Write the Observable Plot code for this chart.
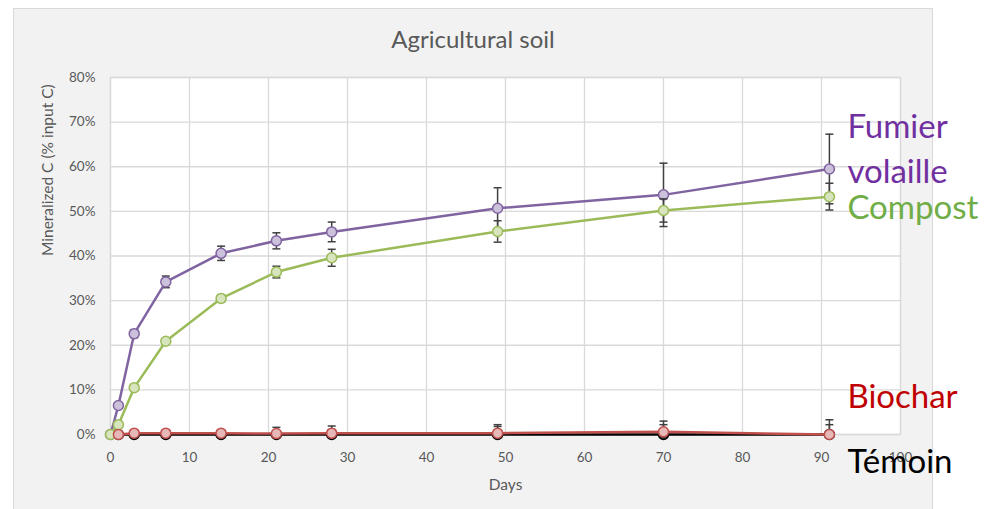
<!DOCTYPE html>
<html>
<head>
<meta charset="utf-8">
<script src="https://cdn.jsdelivr.net/npm/d3@7"></script>
<script src="https://cdn.jsdelivr.net/npm/@observablehq/plot@0.6"></script>
<style>
  html, body { margin: 0; padding: 0; background: #ffffff; }
  #wrap { position: relative; width: 988px; height: 509px; overflow: hidden; font-family: Lato, sans-serif; }
  #panel { position: absolute; left: 13px; top: 8px; width: 920px; height: 520px; background: #f2f2f2; border: 1px solid #d9d9d9; box-sizing: border-box; }
  #title { position: absolute; left: 13px; width: 920px; top: 25px; text-align: center; font-size: 24px; line-height: 28px; color: #595959; }
  #chart { position: absolute; left: 0; top: 0; }
</style>
</head>
<body>
<div id="wrap">
  <div id="panel"></div>
  <div id="title">Agricultural soil</div>
  <div id="chart"></div>
</div>
<script>
// ---- data (values in % of input C) ----
const days = [0, 1, 3, 7, 14, 21, 28, 49, 70, 91];
const fumier     = [0, 6.5, 22.6, 34.2, 40.6, 43.4, 45.4, 50.7, 53.7, 59.5];
const fumierErr  = [0, 0.5, 0.9, 1.3, 1.6, 1.8, 2.2, 4.6, 7.1, 7.8];
const compost    = [0, 2.2, 10.5, 20.9, 30.5, 36.4, 39.6, 45.5, 50.2, 53.3];
const compostErr = [0, 0.3, 0.5, 0.6, 0.8, 1.3, 1.9, 2.4, 2.6, 3.0];
const biochar    = [null, 0, 0.3, 0.3, 0.3, 0.2, 0.3, 0.3, 0.6, 0.0];
const biocharErr = [0, 0, 0, 0, 0, 1.4, 1.6, 1.9, 2.4, 3.3];
const temoin     = [null, 0, 0, 0, 0, 0, 0, 0, 0, 0];
const temoinErr  = [0, 0, 0, 0, 0, 0, 1.1, 1.8, 2.2, 2.2];

const seriesNames = ["Témoin", "Fumier volaille", "Compost", "Biochar"];
const seriesValues = [temoin, fumier, compost, biochar];
const seriesErrors = [temoinErr, fumierErr, compostErr, biocharErr];
const seriesLabels = ["Témoin", "Fumier\nvolaille", "Compost", "Biochar"];

const xTicks = [0, 10, 20, 30, 40, 50, 60, 70, 80, 90, 100];
const yTicks = [0, 10, 20, 30, 40, 50, 60, 70, 80];
const xTitle = ["Days"];
const yTitle = ["Mineralized C (% input C)"];

// ---- styles ----
const style = {
  "Témoin":          {line: "#000000", fill: "#3a3a3a", stroke: "#000000", text: "#000000", dy: 24},
  "Fumier volaille": {line: "#8064a2", fill: "#ccc1da", stroke: "#8064a2", text: "#7030a0", dy: -23},
  "Compost":         {line: "#9bbb59", fill: "#d7e4bd", stroke: "#9bbb59", text: "#70ad47", dy: 8},
  "Biochar":         {line: "#c0504d", fill: "#e6b9b8", stroke: "#c0504d", text: "#c00000", dy: -41}
};

// ---- long table ----
const rows = [];
seriesNames.forEach((name, i) => {
  days.forEach((d, j) => {
    rows.push({series: name, day: d, value: seriesValues[i][j], err: seriesErrors[i][j], label: seriesLabels[i], last: j === days.length - 1});
  });
});

const capSymbol = {
  draw(context, size) {
    const r = Math.sqrt(size / Math.PI);
    context.moveTo(-r, 0);
    context.lineTo(r, 0);
  }
};

const errRows = rows.filter(d => d.err > 0 && d.value != null);

const marks = [
  Plot.frame({fill: "white"}),
  Plot.gridX(xTicks, {stroke: "#d9d9d9", strokeOpacity: 1, strokeWidth: 1.3}),
  Plot.gridY(yTicks, {stroke: "#d9d9d9", strokeOpacity: 1, strokeWidth: 1.3}),
  Plot.frame({stroke: "#d9d9d9", strokeWidth: 1.3}),
  Plot.axisX(xTicks, {tickSize: 0, tickPadding: 18, fontSize: 13.5, fill: "#595959", label: null}),
  Plot.axisY(yTicks, {tickSize: 0, tickPadding: 15, fontSize: 13.5, fill: "#595959", tickFormat: d => d + "%", label: null}),
  Plot.text(xTitle, {text: d => d, frameAnchor: "bottom", dy: 55, fontSize: 15.5, fill: "#595959"}),
  Plot.text(yTitle, {text: d => d, frameAnchor: "left", rotate: -90, dx: -62, fontSize: 15.5, fill: "#595959"})
];

seriesNames.forEach(name => {
  const s = style[name];
  const data = rows.filter(d => d.series === name && d.value != null);
  const err = errRows.filter(d => d.series === name);
  marks.push(
    Plot.ruleX(err, {x: "day", y1: d => d.value - d.err, y2: d => d.value + d.err, stroke: "#404040", strokeWidth: 1.5, clip: true}),
    Plot.dot(err, {x: "day", y: d => d.value + d.err, symbol: capSymbol, r: 4, stroke: "#404040", strokeWidth: 1.5, clip: true}),
    Plot.dot(err, {x: "day", y: d => d.value - d.err, symbol: capSymbol, r: 4, stroke: "#404040", strokeWidth: 1.5, clip: true}),
    Plot.line(data, {x: "day", y: "value", stroke: s.line, strokeWidth: 2.5}),
    Plot.dot(data, {x: "day", y: "value", r: 5, fill: s.fill, stroke: s.stroke, strokeWidth: 1.5})
  );
});

seriesNames.forEach(name => {
  const s = style[name];
  marks.push(
    Plot.text(rows.filter(d => d.series === name && d.last), {
      x: "day", y: "value", text: "label", dx: 18, dy: s.dy, textAnchor: "start",
      fontSize: 33, lineHeight: 1.36, fill: s.text, fontFamily: "Lato"
    })
  );
});

const chart = Plot.plot({
  width: 988,
  height: 509,
  marginLeft: 110,
  marginRight: 88,
  marginTop: 77,
  marginBottom: 75,
  style: {background: "transparent", fontFamily: "Lato, sans-serif", color: "#595959", fontSize: "15px", overflow: "visible"},
  x: {domain: [0, 100]},
  y: {domain: [0, 80]},
  marks
});
document.getElementById("chart").appendChild(chart);
</script>
</body>
</html>
